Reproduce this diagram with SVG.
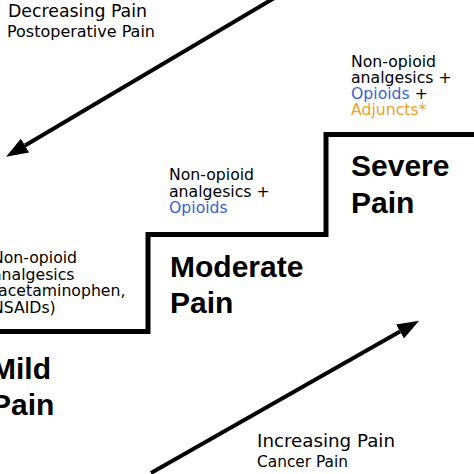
<svg xmlns="http://www.w3.org/2000/svg" width="474" height="474" viewBox="0 0 474 474">
<style>
.sm{font-family:"DejaVu Sans",Verdana,sans-serif;font-size:15.7px;fill:#000}
.lab{font-family:"DejaVu Sans",Verdana,sans-serif;fill:#000}
.big{font-family:"Liberation Sans",Arial,sans-serif;font-weight:bold;font-size:30px;fill:#000}
.blue{fill:#3b5fd4}
.orange{fill:#f0a024}
.step{fill:none;stroke:#000;stroke-width:5;stroke-linejoin:miter}
.arr{fill:none;stroke:#000;stroke-width:4}
</style>
<defs>
<marker id="ah" markerUnits="userSpaceOnUse" markerWidth="22" markerHeight="16" refX="0" refY="8" orient="auto">
<path d="M0,0 L22,8 L0,16 z" fill="#000"/>
</marker>
</defs>
<rect width="474" height="474" fill="#fff"/>
<g id="steps">
<path class="step" d="M-5,331.5 H148 V234.5 H326 V134.5 H480"/>
</g>
<g id="connectors">
<line class="arr" x1="276" y1="-3" x2="25" y2="145.5" marker-end="url(#ah)"/>
<line class="arr" x1="151" y1="473" x2="400" y2="331.5" marker-end="url(#ah)"/>
</g>
<g id="decreasing">
<text class="lab" x="8" y="17" font-size="17" textLength="139" lengthAdjust="spacingAndGlyphs">Decreasing Pain</text>
<text class="lab" x="7" y="37" font-size="15" textLength="148" lengthAdjust="spacingAndGlyphs">Postoperative Pain</text>
</g>
<g id="increasing">
<text class="lab" x="257" y="447" font-size="17.5" textLength="138" lengthAdjust="spacingAndGlyphs">Increasing Pain</text>
<text class="lab" x="257" y="467" font-size="15" textLength="91" lengthAdjust="spacingAndGlyphs">Cancer Pain</text>
</g>
<g id="mild">
<text class="sm" x="-8" y="263">Non-opioid</text>
<text class="sm" x="-8" y="279.5">analgesics</text>
<text class="sm" x="-8" y="296">(acetaminophen,</text>
<text class="sm" x="-8" y="312.5">NSAIDs)</text>
<text class="big" x="-9" y="379">Mild</text>
<text class="big" x="-9" y="415">Pain</text>
</g>
<g id="moderate">
<text class="sm" x="169" y="180">Non-opioid</text>
<text class="sm" x="169" y="196.5">analgesics +</text>
<text class="sm blue" x="169" y="213">Opioids</text>
<text class="big" x="170" y="277">Moderate</text>
<text class="big" x="170" y="313">Pain</text>
</g>
<g id="severe">
<text class="sm" x="351" y="67">Non-opioid</text>
<text class="sm" x="351" y="83">analgesics +</text>
<text class="sm" x="351" y="99"><tspan class="blue">Opioids</tspan> +</text>
<text class="sm orange" x="351" y="115">Adjuncts*</text>
<text class="big" x="351" y="176">Severe</text>
<text class="big" x="351" y="213">Pain</text>
</g>
</svg>
